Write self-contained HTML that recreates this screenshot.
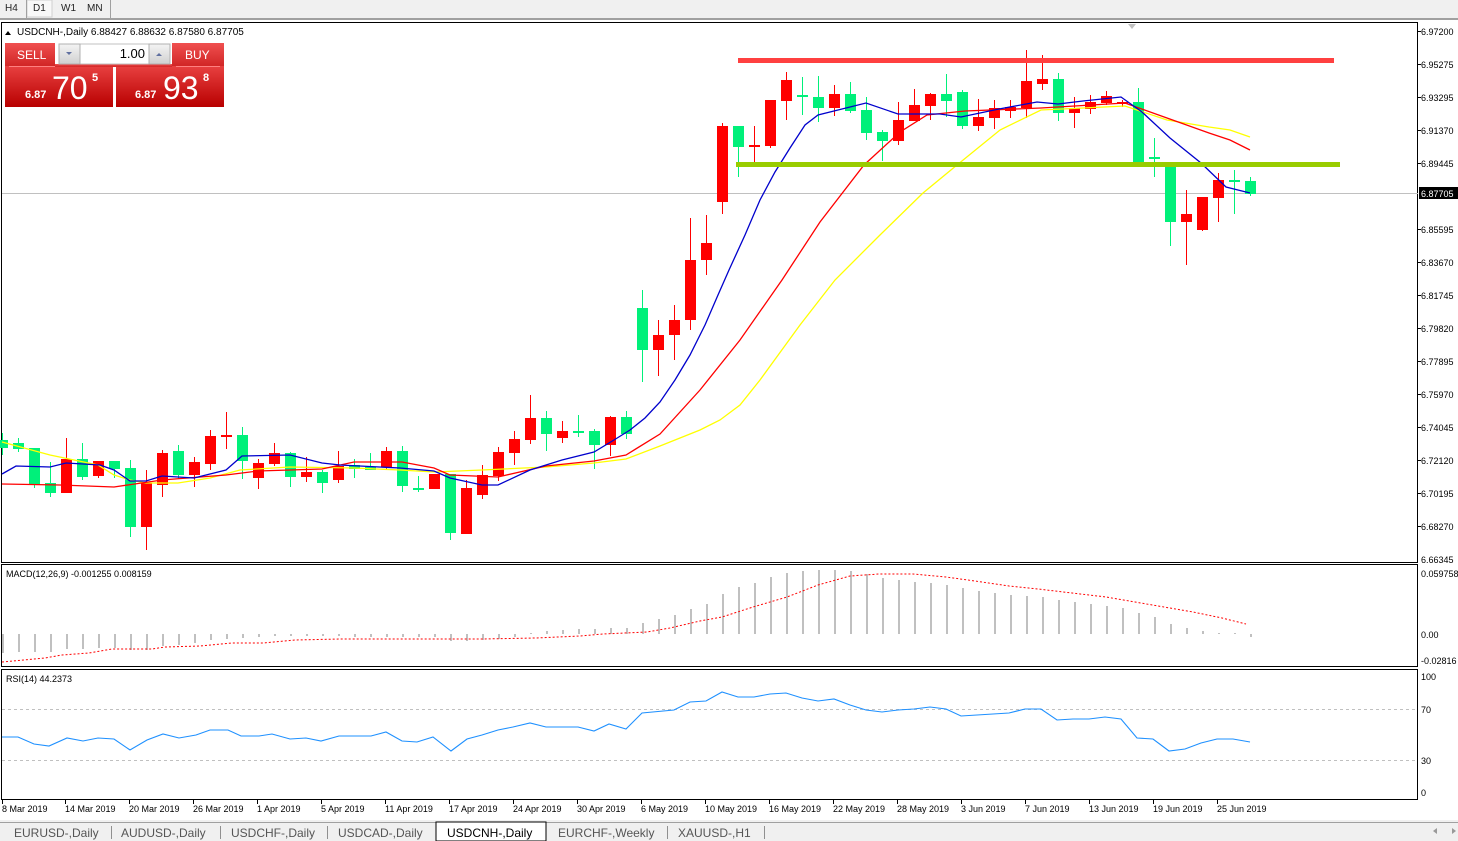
<!DOCTYPE html>
<html><head><meta charset="utf-8"><style>
body{margin:0;width:1458px;height:841px;overflow:hidden;background:#fff;font-family:"Liberation Sans",sans-serif;}
svg{position:absolute;left:0;top:0}
text{font-family:"Liberation Sans",sans-serif;}
</style></head><body>
<svg width="1458" height="841" viewBox="0 0 1458 841">
<rect x="0" y="0" width="1458" height="19" fill="#f0f0f0"/>
<rect x="0" y="18" width="1458" height="2" fill="#a0a0a0"/>
<rect x="27" y="0" width="25" height="17" fill="#f8f8f8" stroke="#d0d0d0"/>
<line x1="26.5" y1="0" x2="26.5" y2="18" stroke="#a0a0a0"/>
<line x1="110.5" y1="0" x2="110.5" y2="18" stroke="#a0a0a0"/>
<g font-size="10" fill="#222"><text x="5" y="11">H4</text><text x="33" y="11">D1</text><text x="61" y="11">W1</text><text x="87" y="11">MN</text></g>
<rect x="1.5" y="22.5" width="1416" height="540" fill="none" stroke="#000"/>
<rect x="1.5" y="564.5" width="1416" height="102" fill="none" stroke="#000"/>
<rect x="1.5" y="669.5" width="1416" height="130" fill="none" stroke="#000"/>
<line x1="2" y1="193.5" x2="1418" y2="193.5" stroke="#c0c0c0"/>
<polygon points="1128,24 1136,24 1132,29" fill="#c0c0c0"/>
<g font-size="9" fill="#000">
<text x="1421" y="35">6.97200</text><text x="1421" y="68">6.95275</text><text x="1421" y="101">6.93295</text><text x="1421" y="134">6.91370</text><text x="1421" y="167">6.89445</text>
<text x="1421" y="233">6.85595</text><text x="1421" y="266">6.83670</text><text x="1421" y="299">6.81745</text><text x="1421" y="332">6.79820</text><text x="1421" y="365">6.77895</text><text x="1421" y="398">6.75970</text><text x="1421" y="431">6.74045</text><text x="1421" y="464">6.72120</text><text x="1421" y="497">6.70195</text><text x="1421" y="530">6.68270</text><text x="1421" y="563">6.66345</text>
<text x="1421" y="577">0.059758</text><text x="1421" y="638">0.00</text><text x="1421" y="664">-0.02816</text>
<text x="1421" y="680">100</text><text x="1421" y="713">70</text><text x="1421" y="764">30</text><text x="1421" y="796">0</text>
</g>
<rect x="1419" y="187" width="39" height="12" fill="#000"/>
<text x="1421" y="197" font-size="9" fill="#fff">6.87705</text>
<g stroke="#000"><line x1="1418" y1="31.5" x2="1421" y2="31.5"/><line x1="1418" y1="64.5" x2="1421" y2="64.5"/><line x1="1418" y1="97.5" x2="1421" y2="97.5"/><line x1="1418" y1="130.5" x2="1421" y2="130.5"/><line x1="1418" y1="163.5" x2="1421" y2="163.5"/><line x1="1418" y1="229.5" x2="1421" y2="229.5"/><line x1="1418" y1="262.5" x2="1421" y2="262.5"/><line x1="1418" y1="295.5" x2="1421" y2="295.5"/><line x1="1418" y1="328.5" x2="1421" y2="328.5"/><line x1="1418" y1="361.5" x2="1421" y2="361.5"/><line x1="1418" y1="394.5" x2="1421" y2="394.5"/><line x1="1418" y1="427.5" x2="1421" y2="427.5"/><line x1="1418" y1="460.5" x2="1421" y2="460.5"/><line x1="1418" y1="493.5" x2="1421" y2="493.5"/><line x1="1418" y1="526.5" x2="1421" y2="526.5"/></g>
<g>
<g fill="#00f07a">
<rect x="2" y="433" width="1" height="22"/><rect x="-3" y="440" width="11" height="8"/>
<rect x="18" y="438" width="1" height="14"/><rect x="13" y="443" width="11" height="6"/>
<rect x="34" y="448" width="1" height="40"/><rect x="29" y="448" width="11" height="36"/>
<rect x="50" y="462" width="1" height="35"/><rect x="45" y="483" width="11" height="10"/>
<rect x="82" y="443" width="1" height="37"/><rect x="77" y="459" width="11" height="18"/>
<rect x="114" y="461" width="1" height="17"/><rect x="109" y="461" width="11" height="8"/>
<rect x="130" y="460" width="1" height="77"/><rect x="125" y="468" width="11" height="59"/>
<rect x="178" y="445" width="1" height="34"/><rect x="173" y="451" width="11" height="24"/>
<rect x="242" y="427" width="1" height="52"/><rect x="237" y="435" width="11" height="26"/>
<rect x="290" y="452" width="1" height="35"/><rect x="285" y="453" width="11" height="24"/>
<rect x="322" y="470" width="1" height="23"/><rect x="317" y="472" width="11" height="11"/>
<rect x="354" y="459" width="1" height="19"/><rect x="349" y="465" width="11" height="4"/>
<rect x="370" y="453" width="1" height="17"/><rect x="365" y="467" width="11" height="3"/>
<rect x="402" y="446" width="1" height="46"/><rect x="397" y="451" width="11" height="35"/>
<rect x="418" y="476" width="1" height="16"/><rect x="413" y="488" width="11" height="2"/>
<rect x="450" y="474" width="1" height="66"/><rect x="445" y="474" width="11" height="59"/>
<rect x="546" y="411" width="1" height="40"/><rect x="541" y="418" width="11" height="16"/>
<rect x="578" y="415" width="1" height="22"/><rect x="573" y="431" width="11" height="2"/>
<rect x="594" y="429" width="1" height="40"/><rect x="589" y="431" width="11" height="14"/>
<rect x="626" y="411" width="1" height="28"/><rect x="621" y="417" width="11" height="17"/>
<rect x="642" y="290" width="1" height="92"/><rect x="637" y="308" width="11" height="42"/>
<rect x="738" y="126" width="1" height="51"/><rect x="733" y="126" width="11" height="21"/>
<rect x="802" y="77" width="1" height="38"/><rect x="797" y="95" width="11" height="2"/>
<rect x="818" y="76" width="1" height="46"/><rect x="813" y="97" width="11" height="11"/>
<rect x="850" y="82" width="1" height="31"/><rect x="845" y="94" width="11" height="17"/>
<rect x="866" y="97" width="1" height="43"/><rect x="861" y="110" width="11" height="23"/>
<rect x="882" y="130" width="1" height="31"/><rect x="877" y="132" width="11" height="9"/>
<rect x="946" y="74" width="1" height="43"/><rect x="941" y="94" width="11" height="7"/>
<rect x="962" y="90" width="1" height="39"/><rect x="957" y="92" width="11" height="34"/>
<rect x="1058" y="73" width="1" height="48"/><rect x="1053" y="79" width="11" height="34"/>
<rect x="1138" y="88" width="1" height="75"/><rect x="1133" y="102" width="11" height="61"/>
<rect x="1154" y="138" width="1" height="39"/><rect x="1149" y="157" width="11" height="2"/>
<rect x="1170" y="167" width="1" height="79"/><rect x="1165" y="167" width="11" height="55"/>
<rect x="1234" y="170" width="1" height="44"/><rect x="1229" y="180" width="11" height="2"/>
<rect x="1250" y="177" width="1" height="19"/><rect x="1245" y="181" width="11" height="13"/>
</g>
<g fill="#ff0000">
<rect x="66" y="438" width="1" height="55"/><rect x="61" y="459" width="11" height="34"/>
<rect x="98" y="461" width="1" height="17"/><rect x="93" y="461" width="11" height="15"/>
<rect x="146" y="470" width="1" height="80"/><rect x="141" y="483" width="11" height="44"/>
<rect x="162" y="450" width="1" height="47"/><rect x="157" y="453" width="11" height="32"/>
<rect x="194" y="457" width="1" height="30"/><rect x="189" y="462" width="11" height="13"/>
<rect x="210" y="430" width="1" height="40"/><rect x="205" y="436" width="11" height="28"/>
<rect x="226" y="412" width="1" height="37"/><rect x="221" y="435" width="11" height="2"/>
<rect x="258" y="459" width="1" height="30"/><rect x="253" y="463" width="11" height="15"/>
<rect x="274" y="443" width="1" height="23"/><rect x="269" y="453" width="11" height="11"/>
<rect x="306" y="457" width="1" height="25"/><rect x="301" y="472" width="11" height="5"/>
<rect x="338" y="451" width="1" height="32"/><rect x="333" y="466" width="11" height="14"/>
<rect x="386" y="447" width="1" height="23"/><rect x="381" y="451" width="11" height="16"/>
<rect x="434" y="474" width="1" height="15"/><rect x="429" y="474" width="11" height="15"/>
<rect x="466" y="480" width="1" height="54"/><rect x="461" y="488" width="11" height="46"/>
<rect x="482" y="465" width="1" height="34"/><rect x="477" y="475" width="11" height="20"/>
<rect x="498" y="447" width="1" height="34"/><rect x="493" y="452" width="11" height="24"/>
<rect x="514" y="431" width="1" height="34"/><rect x="509" y="439" width="11" height="14"/>
<rect x="530" y="395" width="1" height="49"/><rect x="525" y="418" width="11" height="22"/>
<rect x="562" y="421" width="1" height="22"/><rect x="557" y="431" width="11" height="7"/>
<rect x="610" y="416" width="1" height="40"/><rect x="605" y="417" width="11" height="28"/>
<rect x="658" y="320" width="1" height="56"/><rect x="653" y="335" width="11" height="15"/>
<rect x="674" y="305" width="1" height="55"/><rect x="669" y="320" width="11" height="15"/>
<rect x="690" y="218" width="1" height="112"/><rect x="685" y="260" width="11" height="60"/>
<rect x="706" y="215" width="1" height="60"/><rect x="701" y="243" width="11" height="17"/>
<rect x="722" y="123" width="1" height="91"/><rect x="717" y="126" width="11" height="76"/>
<rect x="754" y="126" width="1" height="37"/><rect x="749" y="145" width="11" height="2"/>
<rect x="770" y="100" width="1" height="48"/><rect x="765" y="100" width="11" height="46"/>
<rect x="786" y="72" width="1" height="48"/><rect x="781" y="80" width="11" height="21"/>
<rect x="834" y="85" width="1" height="31"/><rect x="829" y="94" width="11" height="14"/>
<rect x="898" y="102" width="1" height="43"/><rect x="893" y="120" width="11" height="21"/>
<rect x="914" y="89" width="1" height="32"/><rect x="909" y="105" width="11" height="16"/>
<rect x="930" y="93" width="1" height="27"/><rect x="925" y="94" width="11" height="12"/>
<rect x="978" y="99" width="1" height="32"/><rect x="973" y="117" width="11" height="9"/>
<rect x="994" y="100" width="1" height="29"/><rect x="989" y="108" width="11" height="10"/>
<rect x="1010" y="100" width="1" height="18"/><rect x="1005" y="107" width="11" height="4"/>
<rect x="1026" y="50" width="1" height="68"/><rect x="1021" y="81" width="11" height="27"/>
<rect x="1042" y="55" width="1" height="35"/><rect x="1037" y="79" width="11" height="5"/>
<rect x="1074" y="97" width="1" height="31"/><rect x="1069" y="108" width="11" height="5"/>
<rect x="1090" y="95" width="1" height="19"/><rect x="1085" y="102" width="11" height="7"/>
<rect x="1106" y="91" width="1" height="14"/><rect x="1101" y="96" width="11" height="7"/>
<rect x="1122" y="100" width="1" height="7"/><rect x="1117" y="102" width="11" height="2"/>
<rect x="1186" y="190" width="1" height="75"/><rect x="1181" y="214" width="11" height="8"/>
<rect x="1202" y="197" width="1" height="34"/><rect x="1197" y="197" width="11" height="33"/>
<rect x="1218" y="173" width="1" height="49"/><rect x="1213" y="180" width="11" height="18"/>
</g>
</g>
<polyline fill="none" stroke="#ffff00" stroke-width="1.3" points="2,442 50,455 98,465 114,475 130,480 146,483 178,483 210,478 240,470 290,467 354,468 400,470 434,472 482,470 546,467 594,463 626,459 660,446 680,438 700,430 720,420 740,405 760,380 800,325 835,280 880,235 923,193 957,165 1000,130 1041,110 1125,106 1167,120 1209,127 1230,130 1250,137"/>
<polyline fill="none" stroke="#ff0000" stroke-width="1.3" points="2,484 60,485 114,487 162,480 226,475 258,471 322,469 354,462 402,462 434,468 450,475 498,477 546,466 594,461 626,455 660,434 700,390 740,340 782,280 820,222 864,165 900,132 927,115 965,111 1041,108 1125,103 1167,118 1209,133 1230,140 1250,150"/>
<polyline fill="none" stroke="#0000cc" stroke-width="1.3" points="2,474 16,466 50,467 66,463 100,465 114,470 130,481 146,481 162,476 194,478 226,470 242,456 290,455 322,463 340,465 400,468 434,471 450,478 482,485 498,485 530,470 562,460 594,452 614,440 630,430 645,418 660,402 675,380 690,355 705,325 718,295 729,270 745,235 760,200 775,172 790,148 805,125 818,115 866,103 898,114 940,114 961,117 999,109 1037,102 1058,104 1083,101 1121,97 1142,112 1170,138 1201,163 1226,187 1250,193"/>
<rect x="738" y="58" width="596" height="5" fill="#ff4040"/>
<rect x="736" y="162" width="604" height="5" fill="#99cc00"/>
<polygon points="5,35 11,35 8,31" fill="#000"/>
<text x="17" y="35" font-size="10" fill="#000">USDCNH-,Daily  6.88427 6.88632 6.87580 6.87705</text>
<defs><linearGradient id="rg" x1="0" y1="0" x2="0" y2="1"><stop offset="0" stop-color="#e84040"/><stop offset="1" stop-color="#b80000"/></linearGradient>
<linearGradient id="rg2" x1="0" y1="0" x2="0" y2="1"><stop offset="0" stop-color="#f05050"/><stop offset="1" stop-color="#d02424"/></linearGradient>
<linearGradient id="gg" x1="0" y1="0" x2="0" y2="1"><stop offset="0" stop-color="#f4f4f4"/><stop offset="1" stop-color="#d0d0d0"/></linearGradient></defs>
<rect x="5" y="43" width="50" height="24" fill="url(#rg2)"/>
<rect x="172" y="43" width="52" height="24" fill="url(#rg2)"/>
<rect x="5" y="66" width="108" height="41" fill="url(#rg)"/>
<rect x="116" y="66" width="108" height="41" fill="url(#rg)"/>
<rect x="55" y="64" width="117" height="3" fill="url(#rg2)"/>
<line x1="9" y1="66.5" x2="55" y2="66.5" stroke="#ff8080"/>
<line x1="176" y1="66.5" x2="220" y2="66.5" stroke="#ff8080"/>
<rect x="59" y="44" width="111" height="20" fill="#fff" stroke="#c0c0c0"/>
<rect x="59" y="44" width="21" height="20" fill="url(#gg)" stroke="#b0b0b0"/>
<rect x="149" y="44" width="21" height="20" fill="url(#gg)" stroke="#b0b0b0"/>
<polygon points="66,52 72,52 69,55" fill="#6070a0"/>
<polygon points="156,56 162,56 159,53" fill="#6070a0"/>
<text x="145" y="58" font-size="13" text-anchor="end" fill="#000">1.00</text>
<text x="17" y="59" font-size="12" fill="#fff">SELL</text>
<text x="185" y="59" font-size="12" fill="#fff">BUY</text>
<text x="25" y="98" font-size="11" font-weight="bold" fill="#fff">6.87</text>
<text x="52" y="99" font-size="32" fill="#fff">70</text>
<text x="92" y="81" font-size="11" font-weight="bold" fill="#fff">5</text>
<text x="135" y="98" font-size="11" font-weight="bold" fill="#fff">6.87</text>
<text x="163" y="99" font-size="32" fill="#fff">93</text>
<text x="203" y="81" font-size="11" font-weight="bold" fill="#fff">8</text>
<text x="6" y="577" font-size="9" fill="#000">MACD(12,26,9) -0.001255 0.008159</text>
<g fill="#c0c0c0">
<rect x="2" y="634" width="2" height="19"/><rect x="18" y="634" width="2" height="18"/><rect x="34" y="634" width="2" height="18"/><rect x="50" y="634" width="2" height="18"/><rect x="66" y="634" width="2" height="15"/><rect x="82" y="634" width="2" height="15"/><rect x="98" y="634" width="2" height="14"/><rect x="114" y="634" width="2" height="14"/><rect x="130" y="634" width="2" height="16"/><rect x="146" y="634" width="2" height="16"/><rect x="162" y="634" width="2" height="12"/><rect x="178" y="634" width="2" height="11"/><rect x="194" y="634" width="2" height="9"/><rect x="210" y="634" width="2" height="6"/><rect x="226" y="634" width="2" height="5"/><rect x="242" y="634" width="2" height="4"/><rect x="258" y="634" width="2" height="3"/><rect x="274" y="634" width="2" height="2"/><rect x="290" y="634" width="2" height="2"/><rect x="306" y="634" width="2" height="2"/><rect x="322" y="634" width="2" height="2"/><rect x="338" y="634" width="2" height="2"/><rect x="354" y="634" width="2" height="3"/><rect x="370" y="634" width="2" height="3"/><rect x="386" y="634" width="2" height="3"/><rect x="402" y="634" width="2" height="3"/><rect x="418" y="634" width="2" height="3"/><rect x="434" y="634" width="2" height="3"/><rect x="450" y="634" width="2" height="7"/><rect x="466" y="634" width="2" height="7"/><rect x="482" y="634" width="2" height="6"/><rect x="498" y="634" width="2" height="5"/><rect x="514" y="634" width="2" height="3"/>
<rect x="530" y="633" width="2" height="1"/><rect x="546" y="631" width="2" height="3"/><rect x="562" y="630" width="2" height="4"/><rect x="578" y="629" width="2" height="5"/><rect x="594" y="629" width="2" height="5"/><rect x="610" y="628" width="2" height="6"/><rect x="626" y="628" width="2" height="6"/><rect x="642" y="623" width="2" height="11"/><rect x="658" y="619" width="2" height="15"/><rect x="674" y="615" width="2" height="19"/><rect x="690" y="609" width="2" height="25"/><rect x="706" y="604" width="2" height="30"/><rect x="722" y="594" width="2" height="40"/><rect x="738" y="587" width="2" height="47"/><rect x="754" y="583" width="2" height="51"/><rect x="770" y="577" width="2" height="57"/><rect x="786" y="573" width="2" height="61"/><rect x="802" y="571" width="2" height="63"/><rect x="818" y="570" width="2" height="64"/><rect x="834" y="570" width="2" height="64"/><rect x="850" y="571" width="2" height="63"/><rect x="866" y="574" width="2" height="60"/><rect x="882" y="578" width="2" height="56"/><rect x="898" y="580" width="2" height="54"/><rect x="914" y="582" width="2" height="52"/><rect x="930" y="583" width="2" height="51"/><rect x="946" y="585" width="2" height="49"/><rect x="962" y="588" width="2" height="46"/><rect x="978" y="591" width="2" height="43"/><rect x="994" y="593" width="2" height="41"/><rect x="1010" y="595" width="2" height="39"/><rect x="1026" y="596" width="2" height="38"/><rect x="1042" y="597" width="2" height="37"/><rect x="1058" y="600" width="2" height="34"/><rect x="1074" y="602" width="2" height="32"/><rect x="1090" y="604" width="2" height="30"/><rect x="1106" y="606" width="2" height="28"/><rect x="1122" y="608" width="2" height="26"/><rect x="1138" y="613" width="2" height="21"/><rect x="1154" y="617" width="2" height="17"/><rect x="1170" y="624" width="2" height="10"/><rect x="1186" y="628" width="2" height="6"/><rect x="1202" y="631" width="2" height="3"/><rect x="1218" y="633" width="2" height="1"/><rect x="1234" y="633" width="2" height="1"/><rect x="1250" y="634" width="2" height="3"/>
</g>
<polyline fill="none" stroke="#ff0000" stroke-dasharray="2,2" points="2,662 45,658 62,655 89,653 112,649 152,649 165,647 200,646 232,643 263,643 295,640 340,639 446,639 482,639 536,638 558,637 580,636 603,634 647,632 670,628 700,621 722,617 753,607 787,597 818,585 850,576 879,574 913,574 946,577 975,581 1009,586 1038,589 1072,593 1106,597 1135,602 1164,607 1193,612 1222,618 1246,624"/>
<text x="6" y="682" font-size="9" fill="#000">RSI(14) 44.2373</text>
<line x1="2" y1="709.5" x2="1417" y2="709.5" stroke="#c0c0c0" stroke-dasharray="3,3"/>
<line x1="2" y1="760.5" x2="1417" y2="760.5" stroke="#c0c0c0" stroke-dasharray="3,3"/>
<polyline fill="none" stroke="#1e90ff" stroke-width="1.1" points="2,737 18,737 34,744 49,746 67,738 83,741 98,738 114,739 130,750 147,740 163,734 179,738 196,735 210,730 228,730 241,736 259,736 272,734 290,739 306,738 321,741 339,736 371,736 386,732 402,741 417,742 433,737 451,751 467,739 482,735 498,730 513,727 530,723 546,727 578,727 594,731 609,724 626,729 642,713 674,710 690,702 706,701 722,692 738,697 754,697 770,694 786,693 802,698 818,701 834,699 850,705 866,710 882,712 898,710 914,709 930,707 946,709 961,716 977,715 993,714 1009,713 1025,709 1041,709 1057,720 1073,719 1089,719 1105,717 1121,719 1137,738 1153,739 1169,751 1185,749 1201,743 1217,739 1233,739 1250,742"/>
<g stroke="#000"><line x1="2.5" y1="800" x2="2.5" y2="804"/><line x1="65.5" y1="800" x2="65.5" y2="804"/><line x1="129.5" y1="800" x2="129.5" y2="804"/><line x1="193.5" y1="800" x2="193.5" y2="804"/><line x1="257.5" y1="800" x2="257.5" y2="804"/><line x1="321.5" y1="800" x2="321.5" y2="804"/><line x1="385.5" y1="800" x2="385.5" y2="804"/><line x1="449.5" y1="800" x2="449.5" y2="804"/><line x1="513.5" y1="800" x2="513.5" y2="804"/><line x1="577.5" y1="800" x2="577.5" y2="804"/><line x1="641.5" y1="800" x2="641.5" y2="804"/><line x1="705.5" y1="800" x2="705.5" y2="804"/><line x1="769.5" y1="800" x2="769.5" y2="804"/><line x1="833.5" y1="800" x2="833.5" y2="804"/><line x1="897.5" y1="800" x2="897.5" y2="804"/><line x1="961.5" y1="800" x2="961.5" y2="804"/><line x1="1025.5" y1="800" x2="1025.5" y2="804"/><line x1="1089.5" y1="800" x2="1089.5" y2="804"/><line x1="1153.5" y1="800" x2="1153.5" y2="804"/><line x1="1217.5" y1="800" x2="1217.5" y2="804"/></g>
<g font-size="9" fill="#000">
<text x="2" y="812">8 Mar 2019</text><text x="65" y="812">14 Mar 2019</text><text x="129" y="812">20 Mar 2019</text><text x="193" y="812">26 Mar 2019</text><text x="257" y="812">1 Apr 2019</text><text x="321" y="812">5 Apr 2019</text><text x="385" y="812">11 Apr 2019</text><text x="449" y="812">17 Apr 2019</text><text x="513" y="812">24 Apr 2019</text><text x="577" y="812">30 Apr 2019</text><text x="641" y="812">6 May 2019</text><text x="705" y="812">10 May 2019</text><text x="769" y="812">16 May 2019</text><text x="833" y="812">22 May 2019</text><text x="897" y="812">28 May 2019</text><text x="961" y="812">3 Jun 2019</text><text x="1025" y="812">7 Jun 2019</text><text x="1089" y="812">13 Jun 2019</text><text x="1153" y="812">19 Jun 2019</text><text x="1217" y="812">25 Jun 2019</text>
</g>
<rect x="0" y="820" width="1458" height="21" fill="#f0f0f0"/>
<line x1="0" y1="822.5" x2="1458" y2="822.5" stroke="#a0a0a0"/>
<rect x="436" y="822" width="110" height="19" fill="#fff" stroke="#000"/>
<g stroke="#909090"><line x1="111.5" y1="826" x2="111.5" y2="839"/><line x1="220.5" y1="826" x2="220.5" y2="839"/><line x1="327.5" y1="826" x2="327.5" y2="839"/><line x1="667.5" y1="826" x2="667.5" y2="839"/><line x1="764.5" y1="826" x2="764.5" y2="839"/></g>
<g font-size="12" fill="#555">
<text x="14" y="837">EURUSD-,Daily</text><text x="121" y="837">AUDUSD-,Daily</text><text x="231" y="837">USDCHF-,Daily</text><text x="338" y="837">USDCAD-,Daily</text><text x="447" y="837" fill="#000">USDCNH-,Daily</text><text x="558" y="837">EURCHF-,Weekly</text><text x="678" y="837">XAUUSD-,H1</text>
</g>
<polygon points="1437,834 1433,831 1437,828" fill="#999"/>
<polygon points="1452,828 1456,831 1452,834" fill="#999"/>
</svg>
</body></html>
